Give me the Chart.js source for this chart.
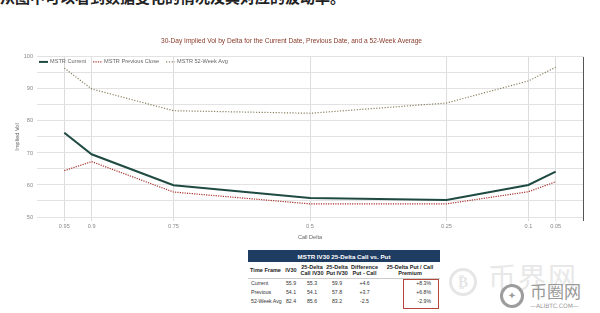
<!DOCTYPE html>
<html>
<head>
<meta charset="utf-8">
<script src="https://cdn.jsdelivr.net/npm/chart.js@4/dist/chart.umd.min.js"></script>
<style>
  body { margin:0; width:600px; height:313px; background:#fff; position:relative; overflow:hidden; font-family:"Liberation Sans", Arial, sans-serif; }
  #wrap { position:absolute; left:0; top:0; width:600px; height:245px; }
  #topline { position:absolute; left:0; top:-14px; font-family:"Noto Sans CJK SC"; font-size:15px; font-weight:bold; color:#222; white-space:nowrap; }
  table { position:absolute; left:248px; top:250px; width:192px; border-collapse:collapse; font-size:5.2px; color:#333; table-layout:fixed; }
  th.cap { background:#1f3d63; color:#fff; font-size:6.2px; height:12px; padding:0; }
  tr.hd th { font-size:5.5px; color:#222; line-height:6.2px; padding:1.5px 0 2px; border-bottom:0.5px solid #ccc; }
  td { height:9px; padding:0; text-align:center; white-space:nowrap; }
  td.l { text-align:left; padding-left:3px; }
  td.r { text-align:right; padding-right:9px; }
  .nw { white-space:nowrap; }
  #box { position:absolute; left:403px; top:279px; width:34px; height:28px; border:1px solid #b5463c; }
  .wm { position:absolute; font-family:"Noto Sans CJK SC"; white-space:nowrap; }
  .coin { position:absolute; border-radius:50%; box-sizing:border-box; text-align:center; font-family:"DejaVu Sans"; font-weight:bold; }
</style>
</head>
<body>
<div id="topline">从图中可以看到数据变化的情况及其对应的波动率。</div>
<div id="wrap"><canvas id="chart"></canvas></div>

<table>
  <colgroup><col style="width:35px"><col style="width:16px"><col style="width:26px"><col style="width:24px"><col style="width:31px"><col style="width:60px"></colgroup>
  <tr><th class="cap" colspan="6">MSTR IV30 25-Delta Call vs. Put</th></tr>
  <tr class="hd"><th class="nw">Time Frame</th><th>IV30</th><th>25-Delta Call IV30</th><th>25-Delta Put IV30</th><th>Difference Put - Call</th><th>25-Delta Put / Call Premium</th></tr>
  <tbody id="rows"></tbody>
</table>
<div id="box"></div>

<div class="coin" style="left:449px;top:268px;width:28px;height:28px;border:3px solid #e6e6e6;color:#e6e6e6;font-size:15px;line-height:22px;">₿</div>
<div class="wm" style="left:488px;top:256px;font-size:28px;color:#e8e8e8;letter-spacing:2px;">币界网</div>
<div class="coin" style="left:500px;top:284px;width:24px;height:24px;border:3px solid #9c9c9c;color:#9c9c9c;font-size:10px;line-height:18px;">✦</div>
<div class="wm" style="left:530px;top:278px;font-size:17px;color:#9a9a9a;">币圈网</div>
<div class="wm" style="left:530px;top:302px;font-size:6px;color:#9a9a9a;font-family:'DejaVu Sans';">—ALIBTC.COM—</div>

<script>
const deltas = [0.95, 0.9, 0.75, 0.5, 0.25, 0.1, 0.05]
const current = [76.3, 69.6, 59.9, 55.9, 55.3, 60.0, 64.2]
const previous = [64.5, 67.3, 57.8, 54.1, 54.1, 57.9, 61.0]
const avg52 = [96.5, 90.0, 83.2, 82.4, 85.6, 92.5, 96.8]

const tableRows = ['Current', 'Previous', '52-Week Avg']
const iv30 = ['55.9', '54.1', '82.4']
const callIv = ['55.3', '54.1', '85.6']
const putIv = ['59.9', '57.8', '83.2']
const diff = ['+4.6', '+3.7', '-2.5']
const premium = ['+8.3%', '+6.8%', '-2.9%']

let html = ''
for (let i = 0; i < tableRows.length; i++) {
  html += '<tr><td class="l">' + tableRows[i] + '</td><td>' + iv30[i] + '</td><td>' + callIv[i] +
    '</td><td>' + putIv[i] + '</td><td>' + diff[i] + '</td><td class="r">' + premium[i] + '</td></tr>'
}
document.getElementById('rows').innerHTML = html

const toPoints = arr => deltas.map((d, i) => ({x: d, y: arr[i]}))

// legend drawn inside the plot, top left
const insideLegend = {
  id: 'insideLegend',
  afterDraw(chart) {
    const ctx = chart.ctx
    let x = chart.chartArea.left + 2
    const y = chart.chartArea.top + 5
    ctx.save()
    ctx.font = '5.6px "Liberation Sans"'
    ctx.textBaseline = 'middle'
    chart.data.datasets.forEach(ds => {
      ctx.strokeStyle = ds.borderColor
      ctx.lineWidth = ds.borderWidth
      ctx.setLineDash(ds.borderDash || [])
      ctx.beginPath()
      ctx.moveTo(x, y)
      ctx.lineTo(x + 9, y)
      ctx.stroke()
      ctx.fillStyle = '#666'
      ctx.fillText(ds.label, x + 11, y)
      x += 11 + ctx.measureText(ds.label).width + 7
    })
    // right edge of the plot
    ctx.setLineDash([])
    ctx.strokeStyle = '#555'
    ctx.lineWidth = 1
    ctx.beginPath()
    ctx.moveTo(chart.chartArea.right + 0.5, chart.chartArea.top)
    ctx.lineTo(chart.chartArea.right + 0.5, chart.chartArea.bottom + 4)
    ctx.stroke()
    ctx.restore()
  }
}

const tickFont = {family: 'Liberation Sans', size: 5.6}

new Chart(document.getElementById('chart'), {
  type: 'line',
  data: {
    datasets: [
      {label: 'MSTR Current', data: toPoints(current), borderColor: '#1f4a42', borderWidth: 2, pointRadius: 0, tension: 0},
      {label: 'MSTR Previous Close', data: toPoints(previous), borderColor: '#a8302c', borderWidth: 1.2, borderDash: [1.2, 1.2], pointRadius: 0},
      {label: 'MSTR 52-Week Avg', data: toPoints(avg52), borderColor: '#8a8160', borderWidth: 1.2, borderDash: [1.2, 1.6], pointRadius: 0}
    ]
  },
  options: {
    responsive: true,
    maintainAspectRatio: false,
    animation: false,
    layout: {padding: {top: 37, right: 17, left: 0, bottom: 0}},
    plugins: {
      legend: {display: false},
      tooltip: {enabled: false},
      title: {
        display: true,
        text: '30-Day Implied Vol by Delta for the Current Date, Previous Date, and a 52-Week Average',
        color: '#8a3a2a',
        font: {family: 'Liberation Sans', size: 6.6, weight: 'normal'},
        padding: {top: 0, bottom: 12}
      }
    },
    scales: {
      x: {
        type: 'linear',
        reverse: true,
        min: 0,
        max: 1,
        afterBuildTicks: s => { s.ticks = deltas.map(v => ({value: v})) },
        afterFit: s => { s.height = 28 },
        ticks: {font: tickFont, color: '#888', padding: 2, maxRotation: 0, autoSkip: false, callback: v => String(v)},
        grid: {color: '#dcdcdc', tickLength: 4},
        border: {display: false},
        title: {display: true, text: 'Call Delta', color: '#666', font: tickFont, padding: {top: 4}}
      },
      y: {
        min: 50,
        max: 100,
        afterFit: s => { s.width = 37 },
        ticks: {stepSize: 5, font: tickFont, color: '#888', padding: 4, callback: v => v % 10 === 0 ? v : ''},
        grid: {color: '#e2e2e2', drawTicks: false},
        border: {display: false},
        title: {display: true, text: 'Implied Vol', color: '#666', font: tickFont, padding: {top: 14, bottom: 0}}
      }
    }
  },
  plugins: [insideLegend]
})
</script>
</body>
</html>
